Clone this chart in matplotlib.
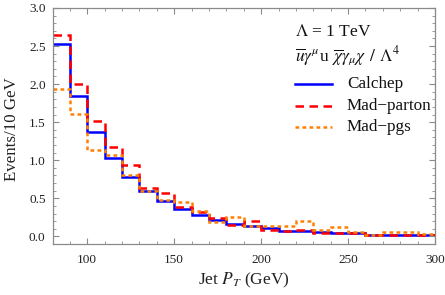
import matplotlib
matplotlib.use("Agg")
import matplotlib.pyplot as plt
import numpy as np
from matplotlib.ticker import MultipleLocator

bin_edges = np.arange(80, 301, 10)
calchep = [2.53, 1.85, 1.375, 1.03, 0.78, 0.60, 0.46, 0.36, 0.28, 0.22, 0.167,
           0.13, 0.105, 0.075, 0.075, 0.055, 0.045, 0.04, 0.022, 0.022, 0.015, 0.015]
mad_parton = [2.65, 2.00, 1.51, 1.18, 0.94, 0.63, 0.565, 0.38, 0.315, 0.24, 0.154,
              0.20, 0.09, 0.065, 0.09, 0.05, 0.05, 0.04, 0.02, 0.022, 0.015, 0.015]
mad_pgs = [1.94, 1.61, 1.13, 1.07, 0.80, 0.59, 0.48, 0.45, 0.33, 0.19, 0.25,
           0.14, 0.14, 0.14, 0.20, 0.08, 0.12, 0.053, 0.022, 0.053, 0.053, 0.035]
series_names = ["Calchep", "Mad\u2212parton", "Mad\u2212pgs"]
xticks = [100, 150, 200, 250, 300]
yticks = [0.0, 0.5, 1.0, 1.5, 2.0, 2.5, 3.0]

plt.rcParams['font.family'] = ['Liberation Serif', 'DejaVu Serif']
plt.rcParams['mathtext.fontset'] = 'stix'

fig = plt.figure(figsize=(4.45, 2.95), dpi=100)
ax = fig.add_axes([0.118, 0.173, 0.8595, 0.8])

blue = (0, 0, 1)
red = (1, 0, 0)
orange = (1, 0.5, 0)
lw = 1.8
dash = (0, (3.4, 2.2))
dot = (0, (1.5, 1.3))
styles = [(blue, '-'), (red, dash), (orange, dot)]

for vals, (c, ls) in zip([calchep, mad_parton, mad_pgs], styles):
    ax.stairs(vals, bin_edges, color=c, lw=lw, baseline=None, linestyle=ls)

ax.set_xlim(80, 300)
ax.set_ylim(-0.1, 3.0)
ax.set_xticks(xticks)
ax.set_yticks(yticks)
ax.set_yticklabels([f"{v:.1f}" for v in yticks])
ax.xaxis.set_minor_locator(MultipleLocator(10))
ax.yaxis.set_minor_locator(MultipleLocator(0.1))
gray = '#8a8a8a'
for s in ax.spines.values():
    s.set_color(gray)
    s.set_linewidth(0.9)
ax.tick_params(which='both', direction='in', top=True, right=True, color=gray,
               labelsize=9.5, labelcolor='#222222')
ax.tick_params(which='major', length=4, width=0.8)
ax.tick_params(which='minor', length=2, width=0.6)
ax.tick_params(axis='x', pad=7)
ax.tick_params(axis='y', pad=5)

ax.set_xlabel(r"Jet $P_T$ (GeV)", fontsize=12.5, color='#222222', labelpad=4)
ax.set_ylabel("Events/10 GeV", fontsize=12.2, color='#222222')
ax.yaxis.set_label_coords(-0.086, 0.487)

tx = 0.634
ax.text(tx, 0.898, r"$\Lambda$ = 1 TeV", transform=ax.transAxes, fontsize=12.5,
        va='center', color='#111111')
ax.text(tx, 0.795, r"$\overline{u}\gamma^{\mu}$u$\;\,\overline{\chi}\gamma_{\mu}\chi\;\,/\;\,\Lambda^{4}$",
        transform=ax.transAxes, fontsize=12.5, va='center', color='#111111')

ys = [0.678, 0.583, 0.494]
for name, (c, ls), yy in zip(series_names, styles, ys):
    ax.plot([0.634, 0.731], [yy, yy], transform=ax.transAxes, color=c, lw=lw,
            linestyle=ls, clip_on=False)
    ax.text(0.77, yy, name, transform=ax.transAxes, fontsize=12.3, va='center',
            color='#111111')

fig.savefig("out.png", dpi=100)
